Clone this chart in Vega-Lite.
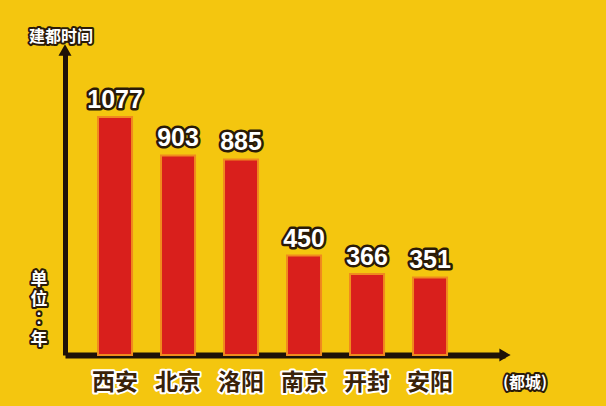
{
  "$schema": "https://vega.github.io/schema/vega-lite/v6.json",
  "autosize": "none",
  "width": 440,
  "height": 305,
  "padding": {"left": 65, "top": 50, "right": 101, "bottom": 51},
  "background": "#f4c60f",
  "config": {"view": {"stroke": null}},
  "datasets": {
    "capitals": [
      {"city": "西安", "years": 1077},
      {"city": "北京", "years": 903},
      {"city": "洛阳", "years": 885},
      {"city": "南京", "years": 450},
      {"city": "开封", "years": 366},
      {"city": "安阳", "years": 351}
    ],
    "one": [{}]
  },
  "data": {"name": "capitals"},
  "layer": [
    {
      "mark": {"type": "bar", "color": "#d91f1c", "stroke": "#f08a1e", "strokeWidth": 2},
      "encoding": {
        "x": {
          "field": "city", "type": "nominal", "sort": null,
          "scale": {"paddingInner": 0.46, "paddingOuter": 0.722, "align": 0.363},
          "axis": {"domainColor": "#1e1208", "domainWidth": 6, "ticks": false, "labels": false, "title": null}
        },
        "y": {
          "field": "years", "type": "quantitative",
          "scale": {"domain": [0, 1380], "nice": false},
          "axis": {"domainColor": "#1e1208", "domainWidth": 5, "ticks": false, "labels": false, "grid": false, "title": null}
        }
      }
    },
    {
      "mark": {"type": "text", "font": "Liberation Sans", "fontWeight": "bold", "fontSize": 25, "baseline": "alphabetic", "dy": -9, "fill": "#2a1a08", "stroke": "#2a1a08", "strokeWidth": 5, "strokeJoin": "round"},
      "encoding": {
        "x": {"field": "city", "type": "nominal", "sort": null},
        "y": {"field": "years", "type": "quantitative"},
        "text": {"field": "years", "type": "quantitative"}
      }
    },
    {
      "mark": {"type": "text", "font": "Liberation Sans", "fontWeight": "bold", "fontSize": 25, "baseline": "alphabetic", "dy": -9, "fill": "#ffffff"},
      "encoding": {
        "x": {"field": "city", "type": "nominal", "sort": null},
        "y": {"field": "years", "type": "quantitative"},
        "text": {"field": "years", "type": "quantitative"}
      }
    },
    {
      "mark": {"type": "text", "font": "Noto Sans CJK SC", "fontWeight": "bold", "fontSize": 23, "baseline": "middle", "dy": 28, "fill": "#ffffff", "stroke": "#ffffff", "strokeWidth": 4, "strokeJoin": "round"},
      "encoding": {
        "x": {"field": "city", "type": "nominal", "sort": null},
        "y": {"datum": 0},
        "text": {"field": "city"}
      }
    },
    {
      "mark": {"type": "text", "font": "Noto Sans CJK SC", "fontWeight": "bold", "fontSize": 23, "baseline": "middle", "dy": 28, "fill": "#3a2208"},
      "encoding": {
        "x": {"field": "city", "type": "nominal", "sort": null},
        "y": {"datum": 0},
        "text": {"field": "city"}
      }
    },
    {
      "data": {"name": "one"},
      "mark": {"type": "point", "shape": "triangle-up", "filled": true, "size": 170, "color": "#1e1208", "opacity": 1, "dy": 2},
      "encoding": {"x": {"value": 0}, "y": {"datum": 1380}}
    },
    {
      "data": {"name": "one"},
      "mark": {"type": "point", "shape": "triangle-right", "filled": true, "size": 170, "color": "#1e1208", "opacity": 1},
      "encoding": {"x": {"value": "width"}, "y": {"datum": 0}}
    },
    {
      "data": {"name": "one"},
      "mark": {"type": "text", "font": "Noto Sans CJK SC", "fontWeight": "bold", "fontSize": 16, "baseline": "middle", "align": "center", "dx": -4, "dy": -13, "fill": "#2a1a08", "stroke": "#2a1a08", "strokeWidth": 4, "strokeJoin": "round"},
      "encoding": {"x": {"value": 0}, "y": {"datum": 1380}, "text": {"value": "建都时间"}}
    },
    {
      "data": {"name": "one"},
      "mark": {"type": "text", "font": "Noto Sans CJK SC", "fontWeight": "bold", "fontSize": 16, "baseline": "middle", "align": "center", "dx": -4, "dy": -13, "fill": "#ffffff"},
      "encoding": {"x": {"value": 0}, "y": {"datum": 1380}, "text": {"value": "建都时间"}}
    },
    {
      "data": {"name": "one"},
      "mark": {"type": "text", "font": "Noto Sans CJK SC", "fontWeight": "bold", "fontSize": 17, "lineHeight": 20, "baseline": "middle", "align": "center", "dx": -26, "fill": "#2a1a08", "stroke": "#2a1a08", "strokeWidth": 4, "strokeJoin": "round"},
      "encoding": {"x": {"value": 0}, "y": {"datum": 340}, "text": {"value": ["单", "位", "︰", "年"]}}
    },
    {
      "data": {"name": "one"},
      "mark": {"type": "text", "font": "Noto Sans CJK SC", "fontWeight": "bold", "fontSize": 17, "lineHeight": 20, "baseline": "middle", "align": "center", "dx": -26, "fill": "#ffffff"},
      "encoding": {"x": {"value": 0}, "y": {"datum": 340}, "text": {"value": ["单", "位", "︰", "年"]}}
    },
    {
      "data": {"name": "one"},
      "mark": {"type": "text", "font": "Noto Sans CJK SC", "fontWeight": "bold", "fontSize": 16, "baseline": "middle", "align": "center", "dx": 20, "dy": 28, "fill": "#2a1a08", "stroke": "#2a1a08", "strokeWidth": 4, "strokeJoin": "round"},
      "encoding": {"x": {"value": "width"}, "y": {"datum": 0}, "text": {"value": "(都城)"}}
    },
    {
      "data": {"name": "one"},
      "mark": {"type": "text", "font": "Noto Sans CJK SC", "fontWeight": "bold", "fontSize": 16, "baseline": "middle", "align": "center", "dx": 20, "dy": 28, "fill": "#ffffff"},
      "encoding": {"x": {"value": "width"}, "y": {"datum": 0}, "text": {"value": "(都城)"}}
    }
  ]
}
